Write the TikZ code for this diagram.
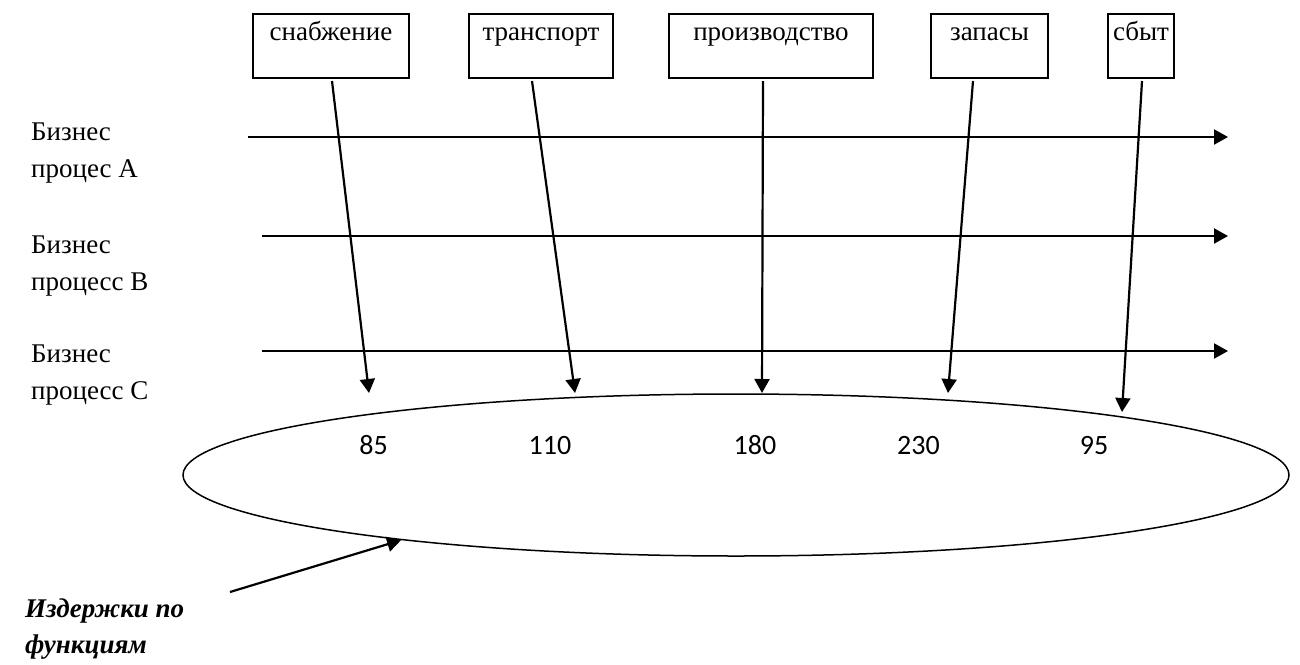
\documentclass[tikz,border=0pt]{standalone}
\usepackage{fontspec}
\setmainfont{Liberation Serif}
\newfontfamily\numfont{Carlito}
\usetikzlibrary{arrows.meta, positioning, shapes.geometric}

\begin{document}
\begin{tikzpicture}[x=1pt, y=-1pt,
  func/.style={draw, line width=2pt, inner xsep=0pt, inner ysep=7pt,
    text height=19pt, text depth=31pt, anchor=north,
    font=\fontsize{27}{37}\selectfont},
  lbl/.style={anchor=base west, align=left, inner sep=0pt,
    font=\fontsize{27}{37}\selectfont},
  num/.style={anchor=base, inner sep=0pt, font=\numfont\fontsize{28}{34}\selectfont},
  flow/.style={line width=2.2pt, -{Triangle[length=14pt, width=15pt]}}]
\useasboundingbox (0,0) rectangle (1300,664);
% nodes

\node [func, minimum width=156pt] (snab) at (331, 13) {снабжение};
\node [func, minimum width=144pt] (trans) at (541, 13) {транспорт};
\node [func, minimum width=204pt] (prod) at (771, 13) {производство};
\node [func, minimum width=117pt] (zap) at (989.5, 13) {запасы};
\node [func, minimum width=66pt] (sbyt) at (1141, 13) {сбыт};

\node [lbl] (pa) at (31, 177) {Бизнес\\процес А};
\node [lbl] (pb) at (31, 290) {Бизнес\\процесс В};
\node [lbl] (pc) at (31, 399) {Бизнес\\процесс С};

\node [draw, ellipse, line width=1.5pt, inner sep=0pt,
  minimum width=1106pt, minimum height=162pt] (cost) at (736, 475) {};

\node [num] (n1) at (373.5, 454) {85};
\node [num] (n2) at (550, 454) {110};
\node [num] (n3) at (755, 454) {180};
\node [num] (n4) at (918.5, 454) {230};
\node [num] (n5) at (1094, 454) {95};

\node [lbl, font=\fontsize{27}{36}\selectfont\bfseries\itshape] (izd) at (25, 653) {Издержки по\\функциям};

\coordinate (a0) at (248, 137);
\coordinate (a1) at (1228, 137);
\coordinate (b0) at (262, 236);
\coordinate (b1) at (1228, 236);
\coordinate (c0) at (262, 351);
\coordinate (c1) at (1228, 351);

\coordinate (s0) at (332, 81);
\coordinate (s1) at (369, 393);
\coordinate (t0) at (532, 81);
\coordinate (t1) at (575, 393);
\coordinate (p0) at (763, 81);
\coordinate (p1) at (762, 393);
\coordinate (z0) at (973, 81);
\coordinate (z1) at (948, 393);
\coordinate (y0) at (1142, 81);
\coordinate (y1) at (1122, 412);

\coordinate (i0) at (230, 592);

% arrows
\draw [flow] (a0) -- (a1);
\draw [flow] (b0) -- (b1);
\draw [flow] (c0) -- (c1);

\draw [flow] (s0) -- (s1);
\draw [flow] (t0) -- (t1);
\draw [flow] (p0) -- (p1);
\draw [flow] (z0) -- (z1);
\draw [flow] (y0) -- (y1);

\draw [flow] (i0) -- (cost.191.5);
\end{tikzpicture}
\end{document}
